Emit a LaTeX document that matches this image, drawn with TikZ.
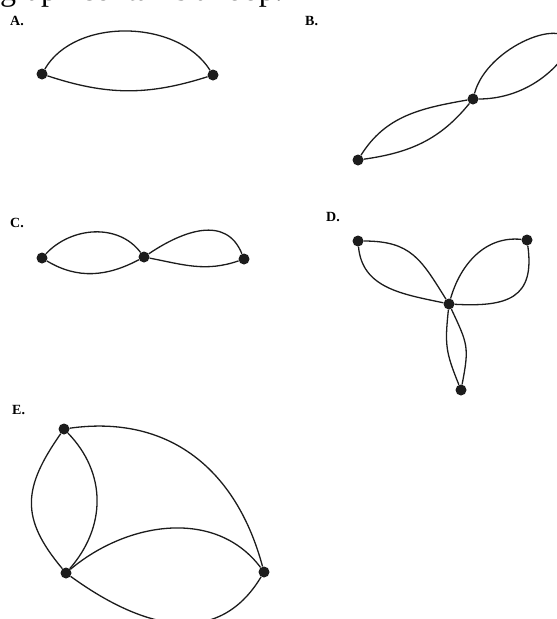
\documentclass[tikz,border=0pt]{standalone}
\usepackage{fontspec}
\setmainfont{Liberation Serif}
\usetikzlibrary{positioning}
\definecolor{inkDark}{HTML}{1C1C1C}

\begin{document}
\begin{tikzpicture}[
  x=1pt, y=1pt,
  vtx/.style={circle, fill=inkDark, inner sep=0pt, minimum size=11pt},
  link/.style={draw=inkDark, line width=1.3pt},
  partlabel/.style={font=\fontsize{14}{16}\selectfont\bfseries, anchor=base west, inner sep=0pt},
]
\useasboundingbox (0,0) rectangle (557,-619);
\clip (0,0) rectangle (557,-619);

% question line, cut off at the top
\node[font=\fontsize{32}{36}\selectfont, anchor=base west, inner sep=0pt] (question) at (0,-0.5) {graph contains a loop.};

% === A ===
\node[partlabel] (labA) at (10,-25) {A.};
\node[vtx] (a1) at (42,-74) {};
\node[vtx] (a2) at (213,-75) {};
\draw[link] (a1) to[out=60, in=122, looseness=0.93] (a2);
\draw[link] (a1) to[bend right=18] (a2);

% === B ===
\node[partlabel] (labB) at (305,-25) {B.};
\node[vtx] (b1) at (358,-160) {};
\node[vtx] (b2) at (473,-99) {};
\coordinate (btip) at (570,-47);
\draw[link] (b1) to[out=58, in=190] (b2);
\draw[link] (b1) to[out=8, in=231] (b2);
\draw[link] (b2) to[out=75, in=90, out looseness=1.2, in looseness=0.8] (btip)
                 to[out=-120, in=0, out looseness=0.8, in looseness=1] (b2);

% === C ===
\node[partlabel] (labC) at (10,-227) {C.};
\node[vtx] (c1) at (42,-258) {};
\node[vtx] (c2) at (144,-257) {};
\node[vtx] (c3) at (244,-259) {};
\draw[link] (c1) to[out=47, in=127] (c2);
\draw[link] (c1) to[out=-31, in=-152] (c2);
\draw[link] (c2) to[out=34, in=112, looseness=1.15] (c3);
\draw[link] (c2) to[out=-11, in=-161] (c3);

% === D ===
\node[partlabel] (labD) at (326,-221) {D.};
\node[vtx] (d0) at (449,-304) {};
\node[vtx] (d1) at (358,-241) {};
\node[vtx] (d2) at (527,-240) {};
\node[vtx] (d3) at (461,-390) {};
\draw[link] (d1) to[out=0, in=122, looseness=1.2] (d0);
\draw[link] (d1) to[out=-85, in=168, looseness=1.05] (d0);
\draw[link] (d2) to[out=174, in=74] (d0);
\draw[link] (d2) to[out=-82, in=-3, looseness=1.45] (d0);
\draw[link] (d0) to[out=-96, in=112, looseness=1.2] (d3);
\draw[link] (d0) to[out=-65, in=79, looseness=1.3] (d3);

% === E ===
\node[partlabel] (labE) at (12,-414) {E.};
\node[vtx] (e1) at (64,-429) {};
\node[vtx] (e2) at (66,-573) {};
\node[vtx] (e3) at (264,-572) {};
\draw[link] (e1) to[out=-125, in=130, looseness=1.25] (e2);
\draw[link] (e1) to[out=-46, in=49, looseness=1.05] (e2);
\draw[link] (e1) to[out=8, in=105, looseness=1.08] (e3);
\draw[link] (e2) to[out=40, in=127] (e3);
\draw[link] (e2) to[out=-36, in=-121, looseness=1.15] (e3);

\end{tikzpicture}
\end{document}
